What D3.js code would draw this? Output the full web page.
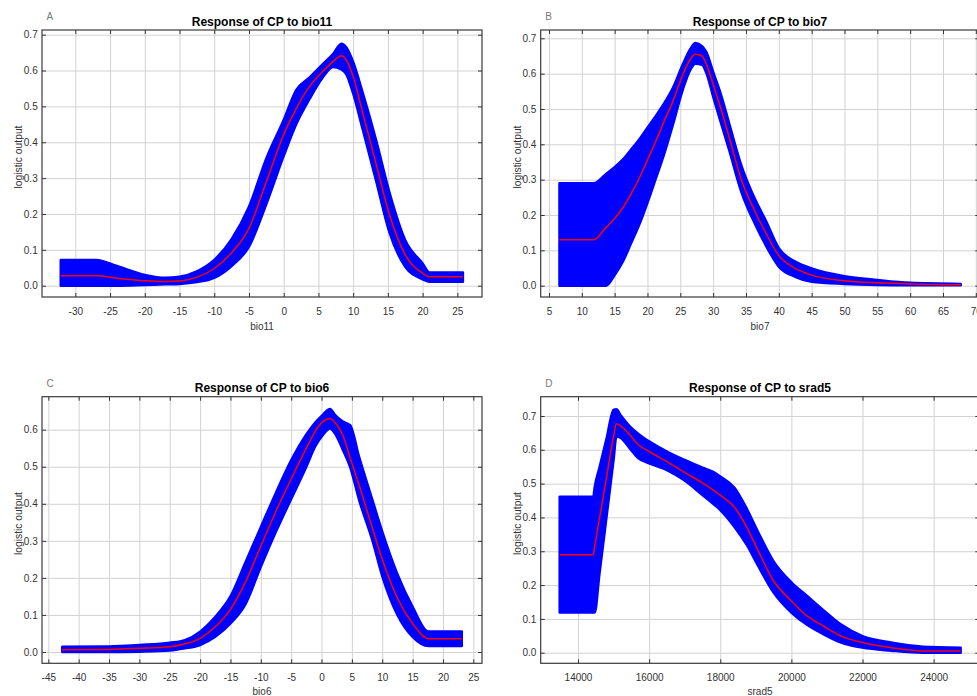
<!DOCTYPE html>
<html><head><meta charset="utf-8">
<script src="https://cdn.jsdelivr.net/npm/d3@7"></script>
<style>body{margin:0;background:#fff;}svg{display:block;}</style>
</head><body>
<script>
// ---------- DATA ----------
// Panel A: bio11
const bio11_x     = [-32.1, -27, -24, -20, -17, -15, -12.5, -10, -7.5, -5, -2.5, 0, 1.8, 3.7, 5.6, 7.1, 8.3, 9, 10, 11.4, 13.3, 15.2, 17.5, 20, 21, 25.8];
const bio11_mean  = [0.028, 0.028, 0.021, 0.014, 0.012, 0.013, 0.024, 0.048, 0.092, 0.16, 0.29, 0.422, 0.494, 0.555, 0.597, 0.625, 0.641, 0.63, 0.583, 0.48, 0.34, 0.2, 0.086, 0.035, 0.025, 0.025];
const bio11_upper = [0.072, 0.072, 0.055, 0.03, 0.022, 0.025, 0.04, 0.072, 0.13, 0.22, 0.355, 0.462, 0.545, 0.58, 0.617, 0.646, 0.675, 0.665, 0.624, 0.536, 0.406, 0.262, 0.127, 0.062, 0.037, 0.037];
const bio11_lower = [0.0, 0.0, 0.0, 0.002, 0.004, 0.005, 0.01, 0.022, 0.055, 0.109, 0.228, 0.362, 0.45, 0.52, 0.58, 0.61, 0.603, 0.59, 0.536, 0.434, 0.293, 0.15, 0.053, 0.018, 0.011, 0.011];
const bio11_xticks = [-30, -25, -20, -15, -10, -5, 0, 5, 10, 15, 20, 25];
const bio11_yticks = [0, 0.1, 0.2, 0.3, 0.4, 0.5, 0.6, 0.7];

// Panel B: bio7
const bio7_x     = [6.6, 11.8, 13.7, 15, 16.3, 17.5, 18.8, 20, 21.3, 22.5, 23.9, 25.4, 26.5, 27.3, 28.3, 29, 30, 31.2, 32.5, 34.3, 36.5, 38, 40, 42.5, 45, 50, 55, 60, 67.7];
const bio7_mean  = [0.13, 0.13, 0.165, 0.19, 0.222, 0.26, 0.306, 0.356, 0.41, 0.464, 0.523, 0.598, 0.64, 0.655, 0.65, 0.625, 0.57, 0.5, 0.416, 0.3, 0.205, 0.15, 0.085, 0.049, 0.03, 0.014, 0.008, 0.005, 0.003];
const bio7_upper = [0.29, 0.29, 0.316, 0.335, 0.358, 0.385, 0.415, 0.447, 0.481, 0.515, 0.561, 0.627, 0.669, 0.687, 0.678, 0.66, 0.605, 0.54, 0.455, 0.34, 0.24, 0.185, 0.106, 0.068, 0.049, 0.027, 0.016, 0.008, 0.005];
const bio7_lower = [0.0, 0.0, 0.0, 0.03, 0.07, 0.12, 0.175, 0.235, 0.305, 0.37, 0.457, 0.556, 0.61, 0.628, 0.625, 0.6, 0.535, 0.46, 0.38, 0.265, 0.17, 0.115, 0.054, 0.025, 0.011, 0.005, 0.002, 0.001, 0.001];
const bio7_xticks = [5, 10, 15, 20, 25, 30, 35, 40, 45, 50, 55, 60, 65, 70];
const bio7_yticks = [0, 0.1, 0.2, 0.3, 0.4, 0.5, 0.6, 0.7];

// Panel C: bio6
const bio6_x     = [-42.7, -35, -30, -25, -22.5, -20, -17.5, -15, -12.5, -10, -7.5, -5, -2.5, -1, 0.2, 1.4, 2.2, 3.5, 4.7, 6.2, 8.4, 10, 12.5, 15, 17.6, 23.1];
const bio6_mean  = [0.006, 0.007, 0.01, 0.014, 0.022, 0.037, 0.068, 0.115, 0.19, 0.286, 0.38, 0.467, 0.55, 0.597, 0.621, 0.63, 0.62, 0.585, 0.525, 0.45, 0.333, 0.25, 0.145, 0.077, 0.036, 0.036];
const bio6_upper = [0.014, 0.015, 0.019, 0.025, 0.032, 0.055, 0.095, 0.15, 0.243, 0.337, 0.43, 0.517, 0.587, 0.62, 0.64, 0.656, 0.64, 0.622, 0.612, 0.526, 0.409, 0.325, 0.21, 0.122, 0.055, 0.055];
const bio6_lower = [0.0, 0.0, 0.001, 0.004, 0.01, 0.019, 0.041, 0.077, 0.13, 0.23, 0.325, 0.413, 0.5, 0.556, 0.585, 0.603, 0.59, 0.546, 0.5, 0.41, 0.3, 0.205, 0.1, 0.041, 0.016, 0.016];
const bio6_xticks = [-45, -40, -35, -30, -25, -20, -15, -10, -5, 0, 5, 10, 15, 20, 25];
const bio6_yticks = [0, 0.1, 0.2, 0.3, 0.4, 0.5, 0.6];

// Panel D: srad5
const srad5_x     = [13485, 14430, 14470, 14600, 14800, 15000, 15080, 15200, 15450, 15700, 16000, 16500, 17000, 17500, 17800, 18000, 18400, 18750, 19050, 19500, 20000, 20450, 20900, 21400, 22000, 22800, 23700, 24760];
const srad5_mean  = [0.29, 0.29, 0.315, 0.394, 0.517, 0.64, 0.677, 0.671, 0.645, 0.615, 0.595, 0.565, 0.533, 0.502, 0.481, 0.466, 0.43, 0.37, 0.305, 0.212, 0.153, 0.108, 0.079, 0.049, 0.03, 0.015, 0.005, 0.005];
const srad5_upper = [0.461, 0.461, 0.49, 0.546, 0.632, 0.718, 0.72, 0.702, 0.67, 0.647, 0.625, 0.595, 0.57, 0.547, 0.535, 0.521, 0.488, 0.425, 0.36, 0.27, 0.208, 0.167, 0.126, 0.083, 0.049, 0.03, 0.018, 0.015];
const srad5_lower = [0.119, 0.119, 0.119, 0.23, 0.40, 0.57, 0.639, 0.635, 0.605, 0.575, 0.56, 0.54, 0.509, 0.466, 0.44, 0.422, 0.372, 0.318, 0.26, 0.178, 0.119, 0.082, 0.055, 0.03, 0.015, 0.006, 0.0, 0.0];
const srad5_xticks = [14000, 16000, 18000, 20000, 22000, 24000];
const srad5_yticks = [0, 0.1, 0.2, 0.3, 0.4, 0.5, 0.6, 0.7];

const panelLetters = ["A", "B", "C", "D"];
const panelTitles = ["Response of CP to bio11", "Response of CP to bio7", "Response of CP to bio6", "Response of CP to srad5"];
const xLabels = ["bio11", "bio7", "bio6", "srad5"];
const yLabel = "logistic output";

// ---------- LAYOUT ----------
const panels = [
  {x: bio11_x, mean: bio11_mean, lo: bio11_lower, hi: bio11_upper, xt: bio11_xticks, yt: bio11_yticks,
   box: {x0: 42, x1: 482, y0: 30, y1: 297}, xdom: [-34.8, 28.55], ydom: [-0.0315, 0.713]},
  {x: bio7_x, mean: bio7_mean, lo: bio7_lower, hi: bio7_upper, xt: bio7_xticks, yt: bio7_yticks,
   box: {x0: 540.7, x1: 979.3, y0: 30, y1: 297}, xdom: [3.74, 70.53], ydom: [-0.032, 0.7235]},
  {x: bio6_x, mean: bio6_mean, lo: bio6_lower, hi: bio6_upper, xt: bio6_xticks, yt: bio6_yticks,
   box: {x0: 42, x1: 482, y0: 396.7, y1: 663.3}, xdom: [-46.04, 26.43], ydom: [-0.0305, 0.689]},
  {x: srad5_x, mean: srad5_mean, lo: srad5_lower, hi: srad5_upper, xt: srad5_xticks, yt: srad5_yticks,
   box: {x0: 540.7, x1: 979.3, y0: 396.7, y1: 663.3}, xdom: [12951, 25284], ydom: [-0.0313, 0.757]}
];

const FONT = "'Liberation Sans', Arial, sans-serif";
const svg = d3.select("body").append("svg").attr("width", 977).attr("height", 696);
svg.append("rect").attr("width", 977).attr("height", 696).attr("fill", "#fff");

const fmtX = d => String(d);
const fmtY = d3.format(".1f");

panels.forEach((p, k) => {
  const b = p.box;
  const x = d3.scaleLinear().domain(p.xdom).range([b.x0, b.x1]);
  const y = d3.scaleLinear().domain(p.ydom).range([b.y1, b.y0]);
  const g = svg.append("g");
  const h = b.y1 - b.y0, w = b.x1 - b.x0;

  // gridlines
  const gx = g.append("g").attr("transform", `translate(0,${b.y1})`)
    .call(d3.axisBottom(x).tickValues(p.xt).tickSize(-h).tickFormat(""));
  const gy = g.append("g").attr("transform", `translate(${b.x0},0)`)
    .call(d3.axisLeft(y).tickValues(p.yt).tickSize(-w).tickFormat(""));
  [gx, gy].forEach(a => { a.select(".domain").remove(); a.selectAll("line").attr("stroke", "#d2d2d2").attr("stroke-width", 1); });

  // band + mean line
  const cid = "clip" + k;
  g.append("clipPath").attr("id", cid).append("rect")
    .attr("x", b.x0).attr("y", b.y0).attr("width", w).attr("height", h);
  const idx = d3.range(p.x.length);
  const area = d3.area().x(i => x(p.x[i])).y0(i => y(p.lo[i])).y1(i => y(p.hi[i])).curve(d3.curveMonotoneX);
  const line = d3.line().x(i => x(p.x[i])).y(i => y(p.mean[i])).curve(d3.curveMonotoneX);
  const pg = g.append("g").attr("clip-path", `url(#${cid})`);
  pg.append("path").datum(idx).attr("d", area).attr("fill", "#0000ff").attr("stroke", "#0000ff").attr("stroke-width", 2.5).attr("stroke-linejoin", "round");
  pg.append("path").datum(idx).attr("d", line).attr("fill", "none").attr("stroke", "#ff0000").attr("stroke-width", 1.5);

  // axes with inward ticks
  const ax = [
    g.append("g").attr("transform", `translate(0,${b.y1})`).call(d3.axisBottom(x).tickValues(p.xt).tickSize(-4).tickPadding(10.4).tickFormat(fmtX)),
    g.append("g").attr("transform", `translate(0,${b.y0})`).call(d3.axisTop(x).tickValues(p.xt).tickSize(-4).tickFormat("")),
    g.append("g").attr("transform", `translate(${b.x0},0)`).call(d3.axisLeft(y).tickValues(p.yt).tickSize(-4).tickPadding(4.3).tickFormat(fmtY)),
    g.append("g").attr("transform", `translate(${b.x1},0)`).call(d3.axisRight(y).tickValues(p.yt).tickSize(-4).tickFormat(""))
  ];
  ax.forEach(a => {
    a.select(".domain").remove();
    a.selectAll("line").attr("stroke", "#333").attr("stroke-width", 1);
    a.selectAll("text").attr("fill", "#333").style("font-family", FONT).style("font-size", "10px");
  });

  // frame
  g.append("rect").attr("x", b.x0).attr("y", b.y0).attr("width", w).attr("height", h)
    .attr("fill", "none").attr("stroke", "#3a3a3a").attr("stroke-width", 1.2);

  // texts
  const cx = (b.x0 + b.x1) / 2;
  g.append("text").attr("x", cx).attr("y", b.y0 - 4.3).attr("text-anchor", "middle")
    .style("font-family", FONT).style("font-size", "12px").style("font-weight", "bold").attr("fill", "#000")
    .text(panelTitles[k]);
  g.append("text").attr("x", b.x0 + 4.5).attr("y", b.y0 - 10).attr("text-anchor", "start")
    .style("font-family", FONT).style("font-size", "10px").attr("fill", "#777")
    .text(panelLetters[k]);
  g.append("text").attr("x", cx).attr("y", Math.min(b.y1 + 33, 695)).attr("text-anchor", "middle")
    .style("font-family", FONT).style("font-size", "10px").attr("fill", "#333")
    .text(xLabels[k]);
  const ly = b.y0 + h / 2 - 6.5, lx = b.x0 - 23.5;
  g.append("text").attr("transform", `translate(${lx},${ly}) rotate(-90)`).attr("text-anchor", "middle")
    .attr("dy", "0.35em")
    .style("font-family", FONT).style("font-size", "10.3px").attr("fill", "#333")
    .text(yLabel);
});
</script>
</body></html>
